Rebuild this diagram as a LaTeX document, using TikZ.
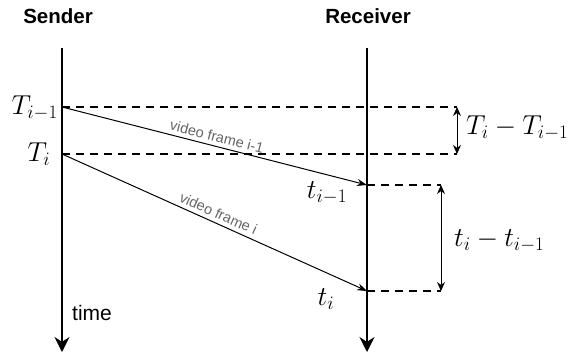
\documentclass[tikz,border=0pt]{standalone}
\usepackage{fontspec}
\setmainfont{Liberation Sans}
\usetikzlibrary{arrows.meta}
\begin{document}
\begin{tikzpicture}[x=1pt,y=-1pt,
  lifeline/.style={line width=2pt,-{Stealth[length=15pt,width=15pt]}},
  dashline/.style={line width=2pt,dash pattern=on 8pt off 6pt},
  msg/.style={line width=1pt,-{Stealth[length=10pt,width=7pt]}},
  span/.style={line width=1pt,{Stealth[length=9pt,width=8pt]}-{Stealth[length=9pt,width=8pt]}},
  head/.style={font=\fontsize{20.5}{24}\selectfont\bfseries},
  mlabel/.style={font=\fontsize{23}{26}\selectfont,inner sep=0pt,scale=1.1,transform shape},
  msgtext/.style={font=\fontsize{14.5}{17}\selectfont,text=black!60,inner sep=0pt}]
\useasboundingbox (0,0) rectangle (570,354);
% lifelines
\coordinate (sTop) at (62,48);
\coordinate (sBot) at (62,352);
\coordinate (rTop) at (367,48);
\coordinate (rBot) at (367,352);
\node[head] (sender) at (58,16) {Sender};
\node[head] (receiver) at (368,16) {Receiver};
\draw[lifeline] (sTop) -- (sBot);
\draw[lifeline] (rTop) -- (rBot);
\node[font=\fontsize{21}{24}\selectfont,anchor=west,inner sep=0pt] (time) at (72,313) {time};
% send / receive points
\coordinate (S1) at (62,107);
\coordinate (S2) at (62,154);
\coordinate (R1) at (367,185);
\coordinate (R2) at (367,291);
\coordinate (D1) at (457,107);
\coordinate (D2) at (457,154);
\coordinate (E1) at (441,185);
\coordinate (E2) at (441,291);
\draw[dashline] (S1) -- (D1);
\draw[dashline] (S2) -- (D2);
\draw[dashline] (R1) -- (E1);
\draw[dashline] (R2) -- (E2);
\draw[msg] (S1) -- node[msgtext,sloped,above=4pt] (m1) {video frame i-1} (R1);
\draw[msg] (S2) -- node[msgtext,sloped,above=4pt] (m2) {video frame i} (R2);
\draw[span] (D1) -- (D2);
\draw[span] (E1) -- (E2);
% math labels
\node[mlabel,anchor=east] (lT1) at (58,108) {$T_{i-1}$};
\node[mlabel] (lT2) at (39,154) {$T_i$};
\node[mlabel] (lt1) at (327,193) {$t_{i-1}$};
\node[mlabel] (lt2) at (326,299) {$t_i$};
\node[mlabel,anchor=west] (dT) at (466,128) {$T_i-T_{i-1}$};
\node[mlabel,anchor=west] (dt) at (454,241) {$t_i-t_{i-1}$};
\end{tikzpicture}
\end{document}
